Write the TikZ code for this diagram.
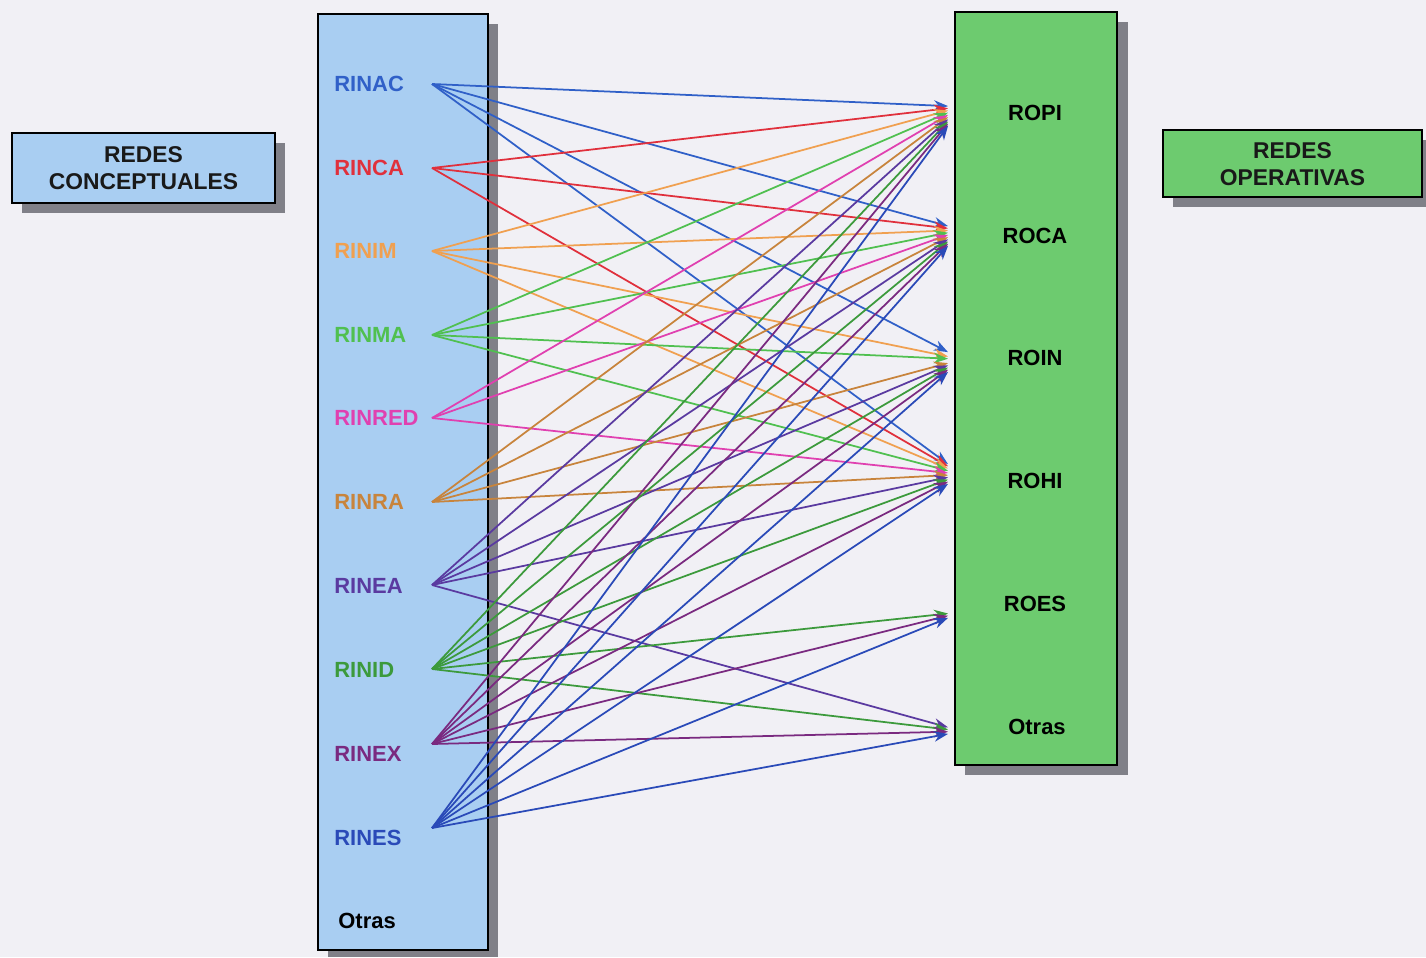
\documentclass[tikz,border=0pt]{standalone}
\usepackage{fontspec}
\setmainfont{Liberation Sans}
\usetikzlibrary{calc}
\usetikzlibrary{arrows.meta}

\definecolor{paper}{HTML}{F1F0F5}
\definecolor{concfill}{HTML}{A9CEF2}
\definecolor{operfill}{HTML}{6DCB6F}
\definecolor{dropgray}{HTML}{808088}
\definecolor{cAC}{HTML}{3060C8}
\definecolor{cCA}{HTML}{E0303C}
\definecolor{cIM}{HTML}{F0A050}
\definecolor{cMA}{HTML}{50C050}
\definecolor{cRED}{HTML}{E040B0}
\definecolor{cRA}{HTML}{C8843C}
\definecolor{cEA}{HTML}{5A3AA0}
\definecolor{cID}{HTML}{3C9A3C}
\definecolor{cEX}{HTML}{7A2A80}
\definecolor{cES}{HTML}{2A4AB8}

\tikzset{
  panel/.style={draw=black, line width=1.4pt},
  lbl/.style={font=\fontsize{12.5}{14}\selectfont\bfseries, inner sep=0pt},
  title/.style={font=\fontsize{13}{15}\selectfont\bfseries, align=center, text=black!90},
  link/.style={line width=1pt, -{Stealth[length=8pt,width=6pt]}},
}

\begin{document}
\begin{tikzpicture}[x=0.02cm, y=-0.02cm]
\fill[paper] (0,0) rectangle (1426,957);
\useasboundingbox (0,0) rectangle (1426,957);

% title boxes
\fill[dropgray] (22,143) rectangle (285,213);
\draw[panel, fill=concfill] (12,133) rectangle (275,203);
\node[title] (conc) at (143.5,168) {REDES\\CONCEPTUALES};
\fill[dropgray] (1173,140) rectangle (1430,207);
\draw[panel, fill=operfill] (1163,130) rectangle (1422,197);
\node[title] (oper) at (1292.5,164) {REDES\\OPERATIVAS};

% the two columns
\fill[dropgray] (328,24) rectangle (498,957);
\draw[panel, fill=concfill] (318,14) rectangle (488,950);
\fill[dropgray] (965,22) rectangle (1128,775);
\draw[panel, fill=operfill] (955,12) rectangle (1117,765);

% conceptual networks
\node[lbl, anchor=west, text=cAC]  (rinac)  at (334,84)  {RINAC};
\node[lbl, anchor=west, text=cCA]  (rinca)  at (334,168) {RINCA};
\node[lbl, anchor=west, text=cIM]  (rinim)  at (334,251) {RINIM};
\node[lbl, anchor=west, text=cMA]  (rinma)  at (334,335) {RINMA};
\node[lbl, anchor=west, text=cRED] (rinred) at (334,418) {RINRED};
\node[lbl, anchor=west, text=cRA]  (rinra)  at (334,502) {RINRA};
\node[lbl, anchor=west, text=cEA]  (rinea)  at (334,586) {RINEA};
\node[lbl, anchor=west, text=cID]  (rinid)  at (334,670) {RINID};
\node[lbl, anchor=west, text=cEX]  (rinex)  at (334,754) {RINEX};
\node[lbl, anchor=west, text=cES]  (rines)  at (334,838) {RINES};
\node[lbl, anchor=west] (otrasc) at (338,921) {Otras};

% operative networks
\node[lbl] (ropi)   at (1035,113) {ROPI};
\node[lbl] (roca)   at (1035,236) {ROCA};
\node[lbl] (roin)   at (1035,358) {ROIN};
\node[lbl] (rohi)   at (1035,481) {ROHI};
\node[lbl] (roes)   at (1035,604) {ROES};
\node[lbl] (otraso) at (1037,727) {Otras};

% fan origins
\foreach \s/\y in {ac/84, ca/168, im/251, ma/335, red/418, ra/502, ea/585, id/669, ex/744, es/828}
  \coordinate (s-\s) at (432,\y);
% arrow targets
\foreach \t/\y in {pi/116, ca/236, in/362, hi/474, es/608, ot/724}
  \coordinate (t-\t) at (948,\y);

% links
\foreach \i/\s/\c/\ts in {
    0/ac/cAC/{pi,ca,in,hi},
    1/ca/cCA/{pi,ca,hi},
    2/im/cIM/{pi,ca,in,hi},
    3/ma/cMA/{pi,ca,in,hi},
    4/red/cRED/{pi,ca,hi},
    5/ra/cRA/{pi,ca,in,hi},
    6/ea/cEA/{pi,ca,in,hi,ot},
    7/id/cID/{pi,ca,in,hi,es,ot},
    8/ex/cEX/{pi,ca,in,hi,es,ot},
    9/es/cES/{pi,ca,in,hi,es,ot}}
  \foreach \t in \ts
    \draw[link, \c] (s-\s) -- ($(t-\t)+(0,{(\i-4.5)*2.2})$);
\end{tikzpicture}
\end{document}
